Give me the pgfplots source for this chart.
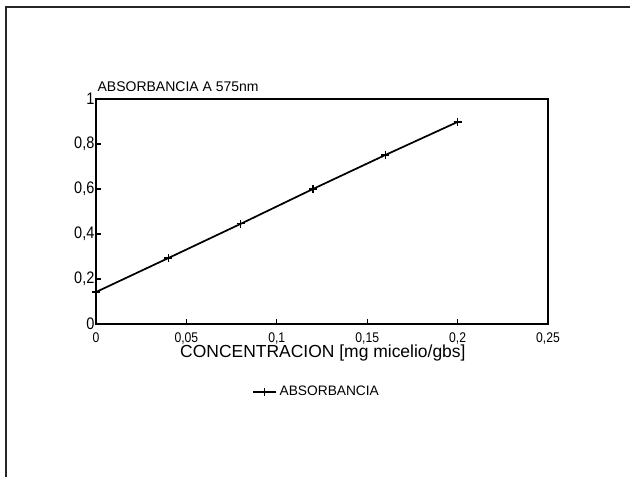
\documentclass[border=0pt]{standalone}
\usepackage{pgfplots}
\pgfplotsset{compat=1.18}
\usepackage{fontspec}
\setmainfont{Liberation Sans}
\newfontfamily\narrowfont[FakeStretch=0.87]{Liberation Sans}
\begin{document}
\begin{tikzpicture}[x=1pt,y=1pt]
\path[use as bounding box] (0,0) rectangle (472.5,357.75);
% page frame of the scan
\draw[line width=1.2pt, black!85] (4.5,0) -- (4.5,352.5) -- (472.5,352.5);
\begin{axis}[
  at={(72pt,114.75pt)}, anchor=south west,
  scale only axis, width=339pt, height=168.75pt,
  xmin=0, xmax=0.25, ymin=0, ymax=1,
  xtick={0,0.05,0.1,0.15,0.2,0.25},
  ytick={0,0.2,0.4,0.6,0.8,1},
  xticklabels={0,{0,05},{0,1},{0,15},{0,2},{0,25}},
  yticklabels={0,{0,2},{0,4},{0,6},{0,8},1},
  tick align=inside, xtick pos=bottom, ytick pos=left,
  axis line style={line width=1.3pt},
  major tick length=4pt,
  tick style={line width=0.9pt, black},
  yticklabel style={inner xsep=1pt, font=\narrowfont\fontsize{12.5}{13}\selectfont},
  xticklabel style={anchor=north, yshift=-5.5pt, inner ysep=1pt, font=\narrowfont\fontsize{10.5}{11}\selectfont},
  every axis title shift=0pt,
  title={ABSORBANCIA A 575nm},
  title style={at={(axis description cs:0,1)}, anchor=base west, yshift=5.25pt, xshift=1pt, inner sep=0pt, font=\fontsize{10.5}{11}\selectfont},
  xlabel={CONCENTRACION [mg micelio/gbs]},
  xlabel style={at={(axis description cs:0.502,0)}, anchor=base, yshift=-25.5pt, inner sep=0pt, font=\fontsize{13.1}{14}\selectfont},
  legend style={at={(axis description cs:0.489,-0.302)}, anchor=center, draw=none, fill=none, font=\fontsize{10.3}{11}\selectfont, inner sep=1pt},
  legend cell align=left,
]
\addplot[black, line width=1.3pt, mark=+, mark size=3pt, mark options={line width=0.9pt}]
  coordinates {(0,0.142) (0.04,0.293) (0.08,0.445) (0.12,0.600) (0.16,0.751) (0.2,0.898)};
\addlegendentry{ABSORBANCIA}
\end{axis}
\end{tikzpicture}
\end{document}
